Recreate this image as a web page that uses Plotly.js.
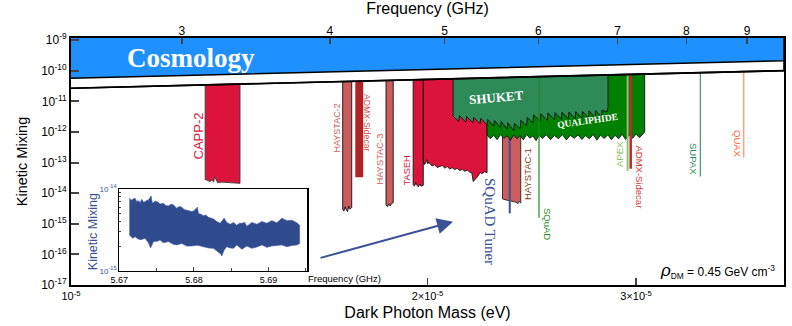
<!DOCTYPE html>
<html>
<head>
<meta charset="utf-8">
<script src="https://cdn.plot.ly/plotly-3.0.1.min.js"></script>
<style>
  body { margin: 0; background: #fff; }
  #chart { width: 792px; height: 326px; }
</style>
</head>
<body>
<div id="chart"></div>
<script>
// Dark photon limits: x = mass (eV), y = kinetic mixing.

var massRange = [1e-5, 4e-5];
var GHZ_PER_EV = 241799;   // E/h
var topY = 1e-8;           // regions hang down from above the plot

// cosmology band (lower edge) and the line the haloscope limits start from
var cosmoEdge = [5.66e-11, 2.13e-10];
var cosmoLine = [2.69e-11, 1.01e-10];

// ---- haloscope exclusion regions ----
var capp2Mass  = [1.298e-5, 1.305e-5, 1.31e-5, 1.315e-5, 1.32e-5, 1.322e-5, 1.33e-5, 1.34e-5, 1.36e-5, 1.389e-5];
var capp2Floor = [2.8e-14, 2.6e-14, 2.4e-14, 2.7e-14, 2.3e-14, 3.5e-14, 2.2e-14, 2.3e-14, 2.2e-14, 2.1e-14];

var haystac2Mass  = [1.696e-5, 1.700e-5, 1.704e-5, 1.708e-5, 1.712e-5, 1.716e-5, 1.720e-5, 1.726e-5];
var haystac2Floor = [3.0e-15, 2.6e-15, 3.6e-15, 2.8e-15, 2.5e-15, 3.8e-15, 3.0e-15, 3.4e-15];

var sidecarMass  = [1.738e-5, 1.765e-5];
var sidecarFloor = [3.3e-14, 3.3e-14];

var haystac3Mass  = [1.845e-5, 1.850e-5, 1.855e-5, 1.860e-5, 1.865e-5, 1.871e-5];
var haystac3Floor = [4.2e-15, 3.6e-15, 4.5e-15, 3.8e-15, 4.6e-15, 4.9e-15];

var tasehMass  = [1.945e-5, 1.95e-5, 1.955e-5, 1.96e-5, 1.965e-5, 1.97e-5, 1.975e-5, 1.9836e-5];
var tasehFloor = [1.9e-14, 1.7e-14, 2.2e-14, 1.8e-14, 1.6e-14, 2.0e-14, 1.7e-14, 1.8e-14];

var cappMass  = [1.9836e-5, 1.988e-5, 1.9933e-5, 1.997e-5, 2.0011e-5, 2.005e-5, 2.0089e-5, 2.018e-5, 2.0285e-5, 2.038e-5,
                 2.0483e-5, 2.058e-5, 2.0683e-5, 2.078e-5, 2.0885e-5, 2.098e-5, 2.1089e-5, 2.119e-5, 2.1295e-5, 2.14e-5,
                 2.1503e-5, 2.161e-5, 2.1713e-5, 2.1798e-5, 2.1861e-5, 2.1967e-5, 2.2074e-5, 2.215e-5, 2.2225e-5, 2.234e-5, 2.2455e-5];
var cappFloor = [1.14e-13, 8.6e-14, 9.9e-14, 1.25e-13, 9.0e-14, 1.05e-13, 9.2e-14, 7.8e-14, 8.5e-14, 6.9e-14,
                 7.3e-14, 8.0e-14, 6.6e-14, 7.4e-14, 6.2e-14, 6.8e-14, 5.9e-14, 6.5e-14, 5.5e-14, 6.0e-14,
                 5.2e-14, 5.7e-14, 4.8e-14, 4.7e-14, 2.4e-14, 3.0e-14, 3.7e-14, 4.8e-14, 4.3e-14, 5.0e-14, 4.7e-14];

var haystac1Mass  = [2.314e-5, 2.33e-5, 2.35e-5, 2.37e-5, 2.385e-5, 2.39e-5, 2.3975e-5];
var haystac1Floor = [6.5e-15, 6.0e-15, 5.6e-15, 5.2e-15, 4.6e-15, 5.4e-15, 4.8e-15];

var qualiMass  = [2.2455e-5, 2.26e-5, 2.275e-5, 2.29e-5, 2.305e-5, 2.32e-5, 2.335e-5, 2.35e-5, 2.365e-5, 2.38e-5,
                  2.395e-5, 2.41e-5, 2.425e-5, 2.44e-5, 2.455e-5, 2.47e-5, 2.485e-5, 2.50e-5, 2.52e-5, 2.54e-5,
                  2.56e-5, 2.58e-5, 2.60e-5, 2.62e-5, 2.64e-5, 2.66e-5, 2.68e-5, 2.70e-5, 2.72e-5, 2.74e-5,
                  2.76e-5, 2.78e-5, 2.80e-5, 2.82e-5, 2.84e-5, 2.86e-5, 2.88e-5, 2.90e-5, 2.92e-5, 2.94e-5,
                  2.96e-5, 2.98e-5, 3.00e-5, 3.02e-5, 3.04e-5, 3.0508e-5];
var qualiFloor = [8.0e-13, 6.0e-13, 7.8e-13, 5.6e-13, 8.2e-13, 6.2e-13, 7.5e-13, 5.4e-13, 8.0e-13, 6.0e-13,
                  7.6e-13, 5.5e-13, 8.3e-13, 6.3e-13, 7.4e-13, 5.2e-13, 7.9e-13, 6.1e-13, 8.1e-13, 5.6e-13,
                  7.7e-13, 6.0e-13, 8.2e-13, 5.5e-13, 7.8e-13, 6.2e-13, 8.0e-13, 5.7e-13, 7.6e-13, 6.0e-13,
                  8.3e-13, 5.4e-13, 7.9e-13, 6.1e-13, 8.1e-13, 5.6e-13, 7.8e-13, 6.0e-13, 8.4e-13, 5.7e-13,
                  8.0e-13, 6.2e-13, 8.5e-13, 6.5e-13, 9.0e-13, 1.0e-12];

var shuketMass  = [2.102e-5, 2.125e-5, 2.128e-5, 2.155e-5, 2.158e-5, 2.185e-5, 2.188e-5, 2.215e-5, 2.218e-5, 2.245e-5,
                   2.248e-5, 2.275e-5, 2.278e-5, 2.305e-5, 2.308e-5, 2.335e-5, 2.338e-5, 2.365e-5, 2.368e-5, 2.395e-5,
                   2.398e-5, 2.425e-5, 2.428e-5, 2.455e-5, 2.458e-5, 2.49e-5, 2.493e-5, 2.525e-5, 2.528e-5, 2.56e-5,
                   2.563e-5, 2.595e-5, 2.598e-5, 2.63e-5, 2.633e-5, 2.665e-5, 2.668e-5, 2.70e-5, 2.703e-5, 2.735e-5,
                   2.738e-5, 2.77e-5, 2.773e-5, 2.805e-5, 2.808e-5, 2.835e-5, 2.841e-5];
var shuketFloor = [3.3e-12, 2.2e-12, 3.4e-12, 2.1e-12, 3.2e-12, 2.0e-12, 3.0e-12, 1.85e-12, 2.8e-12, 1.7e-12,
                   2.6e-12, 1.55e-12, 2.4e-12, 1.4e-12, 2.2e-12, 1.25e-12, 2.0e-12, 1.1e-12, 1.9e-12, 1.3e-12,
                   2.4e-12, 1.6e-12, 3.0e-12, 2.0e-12, 3.6e-12, 2.3e-12, 3.9e-12, 2.4e-12, 4.2e-12, 2.5e-12,
                   4.3e-12, 2.6e-12, 4.4e-12, 2.7e-12, 4.5e-12, 2.75e-12, 4.6e-12, 2.8e-12, 4.7e-12, 2.9e-12,
                   4.9e-12, 3.0e-12, 5.0e-12, 3.2e-12, 5.2e-12, 4.5e-12, 6.5e-12];

// narrow searches drawn as lines: mass, lowest mixing reached
var squadTunerMass = 2.3468e-5, squadTunerLim = 2.2e-15;
var squadMass = 2.4842e-5,      squadLim = 1.56e-15;
var apexMass = 2.9512e-5,       apexLim = 5.4e-14;
var sidecar2Mass = 2.969e-5,    sidecar2Lim = 6.3e-14;
var supaxMass = 3.3995e-5,      supaxLim = 3.5e-14;
var quaxMass = 3.6983e-5,       quaxLim = 1.47e-13;

// ---- inset: SQuAD tuner scan (frequency GHz vs mixing) ----
var insetUpperF = [5.67135, 5.67166, 5.6719, 5.67211, 5.67235, 5.67255, 5.6728, 5.673, 5.67325, 5.67345, 5.6737, 5.6739,
                   5.67426, 5.6744, 5.67457, 5.6748, 5.6751, 5.67546, 5.67591, 5.6762, 5.67658, 5.6769, 5.67725, 5.6777,
                   5.678, 5.67837, 5.6787, 5.67904, 5.6794, 5.67971, 5.68, 5.68047, 5.68061, 5.68095, 5.68128, 5.6816,
                   5.68195, 5.6823, 5.68262, 5.68307, 5.68352, 5.68405, 5.68441, 5.68486, 5.68531, 5.68575, 5.6861,
                   5.68643, 5.6868, 5.6871, 5.68777, 5.68844, 5.68911, 5.68978, 5.69045, 5.69112, 5.69179, 5.69247,
                   5.69314, 5.69381, 5.69417];
var insetUpper  = [7.7e-15, 7.3e-15, 7.6e-15, 7.7e-15, 7.0e-15, 7.2e-15, 6.8e-15, 7.5e-15, 6.9e-15, 7.0e-15, 7.3e-15, 7.3e-15,
                   8.2e-15, 6.9e-15, 6.8e-15, 7.1e-15, 7.0e-15, 6.55e-15, 6.7e-15, 6.3e-15, 6.2e-15, 6.5e-15, 6.4e-15, 5.8e-15,
                   6.1e-15, 6.0e-15, 5.6e-15, 5.5e-15, 5.5e-15, 5.3e-15, 5.4e-15, 6.0e-15, 5.0e-15, 4.9e-15, 4.7e-15, 4.8e-15,
                   4.5e-15, 4.4e-15, 4.3e-15, 4.0e-15, 3.8e-15, 4.4e-15, 3.9e-15, 3.7e-15, 3.9e-15, 3.6e-15, 3.8e-15,
                   3.8e-15, 3.9e-15, 3.5e-15, 3.9e-15, 3.7e-15, 4.0e-15, 3.8e-15, 4.1e-15, 3.85e-15, 4.4e-15, 4.1e-15,
                   4.15e-15, 3.85e-15, 3.6e-15];
var insetLowerF = [5.67135, 5.6718, 5.67211, 5.6725, 5.6729, 5.67345, 5.6739, 5.6742, 5.67457, 5.6751, 5.67546, 5.67591,
                   5.67658, 5.67725, 5.6777, 5.67837, 5.67904, 5.67971, 5.68047, 5.68128, 5.68195, 5.68262, 5.68307,
                   5.6836, 5.68374, 5.68405, 5.68441, 5.68486, 5.68531, 5.68575, 5.68643, 5.6871, 5.68777, 5.68844,
                   5.68911, 5.68978, 5.69045, 5.69112, 5.69179, 5.69247, 5.69314, 5.69381, 5.69417];
var insetLower  = [2.74e-15, 2.5e-15, 2.61e-15, 2.45e-15, 2.4e-15, 2.49e-15, 2.2e-15, 1.9e-15, 2.27e-15, 2.3e-15, 2.38e-15, 2.2e-15,
                   2.27e-15, 2.1e-15, 2.07e-15, 2.16e-15, 2.0e-15, 2.01e-15, 2.05e-15, 1.97e-15, 1.9e-15, 1.88e-15, 1.76e-15,
                   1.6e-15, 1.51e-15, 1.79e-15, 1.97e-15, 1.9e-15, 1.88e-15, 2.07e-15, 1.83e-15, 2.0e-15, 1.88e-15, 1.95e-15,
                   2.07e-15, 1.93e-15, 2.01e-15, 2.05e-15, 2.07e-15, 1.97e-15, 2.04e-15, 2.07e-15, 2.16e-15];

// axis ticks
var yTickVals = [1e-17, 1e-16, 1e-15, 1e-14, 1e-13, 1e-12, 1e-11, 1e-10, 1e-9];
var yTickText = ['10<sup>-17</sup>', '10<sup>-16</sup>', '10<sup>-15</sup>', '10<sup>-14</sup>', '10<sup>-13</sup>',
                 '10<sup>-12</sup>', '10<sup>-11</sup>', '10<sup>-10</sup>', '10<sup>-9</sup>'];
var xTickVals = [1e-5, 2e-5, 3e-5];
var xTickText = ['10<sup>-5</sup>', '2×10<sup>-5</sup>', '3×10<sup>-5</sup>'];
var freqTicks = [3, 4, 5, 6, 7, 8, 9];
var insetTicks = [5.67, 5.68, 5.69];

var SANS = 'Liberation Sans, Arial, sans-serif';
var SERIF = 'Liberation Serif, Times New Roman, serif';

// helpers: pixel spot in the figure -> paper fraction of the plot area
function px(x) { return (x - 71) / 713; }
function py(y) { return (285 - y) / 247; }

function region(mass, floor, color, outline) {
    var x = [mass[0]].concat(mass, [mass[mass.length - 1]]);
    var y = [topY].concat(floor, [topY]);
    return {
        x: x, y: y, type: 'scatter', mode: 'lines', fill: 'toself',
        fillcolor: color, hoverinfo: 'skip', showlegend: false,
        line: { color: outline || color, width: outline ? 0.9 : 0 }
    };
}

function vline(m, lim, color, w) {
    return {
        x: [m, m], y: [topY, lim], type: 'scatter', mode: 'lines',
        line: { color: color, width: w }, hoverinfo: 'skip', showlegend: false
    };
}

var traces = [
    region(capp2Mass, capp2Floor, '#DC143C', '#3a3a3a'),
    region(haystac2Mass, haystac2Floor, '#CD5C5C', '#111'),
    region(sidecarMass, sidecarFloor, '#B22222'),
    region(haystac3Mass, haystac3Floor, '#CD5C5C', '#111'),
    region(tasehMass, tasehFloor, '#DC143C', '#111'),
    region(cappMass, cappFloor, '#DC143C', '#111'),
    region(haystac1Mass, haystac1Floor, '#CD5C5C', '#222'),
    vline(squadTunerMass, squadTunerLim, '#3A5295', 2),
    region(qualiMass, qualiFloor, '#008000', '#111'),
    region(shuketMass, shuketFloor, '#2E8B57', '#111'),
    vline(squadMass, squadLim, '#1E8A1E', 1.2),
    vline(apexMass, apexLim, '#8CC46A', 2),
    vline(sidecar2Mass, sidecar2Lim, '#C0282D', 2.5),
    vline(supaxMass, supaxLim, '#3C9A68', 1.2),
    vline(quaxMass, quaxLim, '#FFA07A', 1.5)
];

// white gap under the cosmology band, its lower line, then the band itself
traces.push({
    x: [massRange[0], massRange[1], massRange[1], massRange[0]],
    y: [cosmoLine[0], cosmoLine[1], topY, topY],
    type: 'scatter', mode: 'lines', fill: 'toself', fillcolor: '#fff',
    line: { color: '#000', width: 1.6 }, hoverinfo: 'skip', showlegend: false
});
traces.push({
    x: [massRange[0], massRange[1], massRange[1], massRange[0]],
    y: [cosmoEdge[0], cosmoEdge[1], topY, topY],
    type: 'scatter', mode: 'lines', fill: 'toself', fillcolor: '#1E90FF',
    line: { color: '#000', width: 1.6 }, hoverinfo: 'skip', showlegend: false
});
// same lower line again in frequency units, so the top (GHz) axis gets drawn
traces.push({
    x: [massRange[0] * GHZ_PER_EV, massRange[1] * GHZ_PER_EV], y: cosmoLine,
    xaxis: 'x2', yaxis: 'y', type: 'scatter', mode: 'lines',
    line: { color: '#000', width: 1.6 }, hoverinfo: 'skip', showlegend: false
});

// inset noise band
var bandX = insetUpperF.concat(insetLowerF.slice().reverse());
var bandY = insetUpper.concat(insetLower.slice().reverse());
traces.push({
    x: bandX, y: bandY, xaxis: 'x3', yaxis: 'y3', type: 'scatter', mode: 'lines',
    fill: 'toself', fillcolor: '#2F4B8E', line: { color: '#4862A6', width: 0.7 },
    hoverinfo: 'skip', showlegend: false
});

// labels: text, x px, y px, angle, colour, size, font
var labels = [
    ['CAPP-2', 197.5, 136, -90, '#DC143C', 13, SANS],
    ['HAYSTAC-2', 336.5, 128, -90, '#CD5C5C', 9, SANS],
    ['ADMX-Sidecar', 367, 123, 90, '#C9504F', 8.7, SANS],
    ['HAYSTAC-3', 379.5, 159, -90, '#CD5C5C', 9.3, SANS],
    ['TASEH', 406.5, 171, -90, '#DC143C', 9.3, SANS],
    ['HAYSTAC-1', 527, 174, -90, '#8B3A22', 9.5, SANS],
    ['SQuAD', 548, 224, 90, '#1F8F1F', 9.5, SANS],
    ['APEX', 619, 154, -90, '#86C05A', 9.5, SANS],
    ['ADMX-Sidecar', 639.5, 177, 90, '#D03A3A', 9.5, SANS],
    ['SUPAX', 694, 159, 90, '#2E8B57', 9.5, SANS],
    ['QUAX', 738, 144, 90, '#FF5F33', 9.5, SANS],
    ['SQuAD Tuner', 490, 222, 90, '#3A5295', 15, SERIF],
    ['<b>Cosmology</b>', 191, 58, 0, '#fff', 27, SERIF],
    ['<b>SHUKET</b>', 496, 97, -5, '#fff', 13, SERIF],
    ['<b>QUALIPHIDE</b>', 587, 121, -8, '#fff', 9.5, SERIF]
];

var annotations = labels.map(function(l) {
    return {
        text: l[0], xref: 'paper', yref: 'paper', x: px(l[1]), y: py(l[2]),
        xanchor: 'center', yanchor: 'middle', textangle: l[3], showarrow: false,
        font: { color: l[4], size: l[5], family: l[6] }
    };
});

annotations.push({
    text: '<i><span style="font-size:17px">ρ</span></i><sub>DM</sub> = 0.45 GeV cm<sup>-3</sup>',
    xref: 'paper', yref: 'paper', x: px(717), y: py(271), xanchor: 'center', yanchor: 'middle',
    showarrow: false, font: { size: 12, color: '#000', family: SANS }
});
// arrow from the inset to the SQuAD tuner line
annotations.push({
    text: '', xref: 'paper', yref: 'paper', x: px(453), y: py(221.7), ax: -134, ay: 36.6,
    showarrow: true, arrowhead: 2, arrowsize: 1.6, arrowwidth: 2, arrowcolor: '#3A5295', standoff: 0
});
annotations.push({
    text: 'Kinetic Mixing', xref: 'paper', yref: 'paper', x: px(92.7), y: py(231.5), textangle: -90,
    xanchor: 'center', yanchor: 'middle', showarrow: false, font: { size: 12.5, color: '#3A5295', family: SANS }
});
annotations.push({
    text: 'Frequency (GHz)', xref: 'paper', yref: 'paper', x: px(305.5), y: py(278.3),
    xanchor: 'left', yanchor: 'middle', showarrow: false, font: { size: 9.5, color: '#000', family: SANS }
});

var layout = {
    width: 792, height: 326,
    margin: { l: 71, r: 8, t: 38, b: 41 },
    paper_bgcolor: '#fff', plot_bgcolor: '#fff',
    font: { family: SANS, color: '#000' },
    showlegend: false,
    xaxis: {
        type: 'log', range: [Math.log10(massRange[0]), Math.log10(massRange[1])],
        tickvals: xTickVals, ticktext: xTickText, ticks: 'inside', ticklen: 7, tickwidth: 1.5,
        showline: true, linewidth: 2, linecolor: '#000', mirror: true,
        showgrid: false, zeroline: false, tickfont: { size: 11 },
        title: { text: 'Dark Photon Mass (eV)', font: { size: 16 }, standoff: 6 }
    },
    xaxis2: {
        type: 'log', overlaying: 'x', side: 'top', anchor: 'y',
        range: [Math.log10(massRange[0] * GHZ_PER_EV), Math.log10(massRange[1] * GHZ_PER_EV)],
        tickvals: freqTicks, ticktext: freqTicks.map(String), ticks: 'inside', ticklen: 6, tickwidth: 1.5,
        showline: false, showgrid: false, zeroline: false, tickfont: { size: 12 },
        title: { text: 'Frequency (GHz)', font: { size: 16 }, standoff: 4 }
    },
    yaxis: {
        type: 'log', range: [-17, -8.93],
        tickvals: yTickVals, ticktext: yTickText, ticks: 'inside', ticklen: 8, tickwidth: 2,
        showline: true, linewidth: 2, linecolor: '#000', mirror: true,
        showgrid: false, zeroline: false, tickfont: { size: 12 },
        title: { text: 'Kinetic Mixing', font: { size: 14.5 }, standoff: 10 }
    },
    xaxis3: {
        domain: [px(119.3), px(307.3)], anchor: 'y3', range: [5.67, 5.6952],
        tickvals: insetTicks, ticktext: ['5.67', '5.68', '5.69'], ticks: 'inside', ticklen: 4,
        minor: { tickvals: [5.675, 5.685, 5.695], ticks: 'inside', ticklen: 3 },
        showline: true, linewidth: 1.2, linecolor: '#000', mirror: true,
        showgrid: false, zeroline: false, tickfont: { size: 9 }
    },
    yaxis3: {
        domain: [py(270.7), py(189)], anchor: 'x3', type: 'log', range: [-15, -14],
        tickvals: [1e-15, 1e-14], ticktext: ['10<sup>-15</sup>', '10<sup>-14</sup>'],
        ticks: 'inside', ticklen: 4,
        minor: { tickvals: [2e-15, 3e-15, 4e-15, 5e-15, 6e-15, 7e-15, 8e-15, 9e-15], ticks: 'inside', ticklen: 2 },
        showline: true, linewidth: 1.2, linecolor: '#000', mirror: true,
        showgrid: false, zeroline: false, tickfont: { size: 8, color: '#3A5295' }
    },
    annotations: annotations
};

Plotly.newPlot('chart', traces, layout, { displayModeBar: false, staticPlot: true });
</script>
</body>
</html>
